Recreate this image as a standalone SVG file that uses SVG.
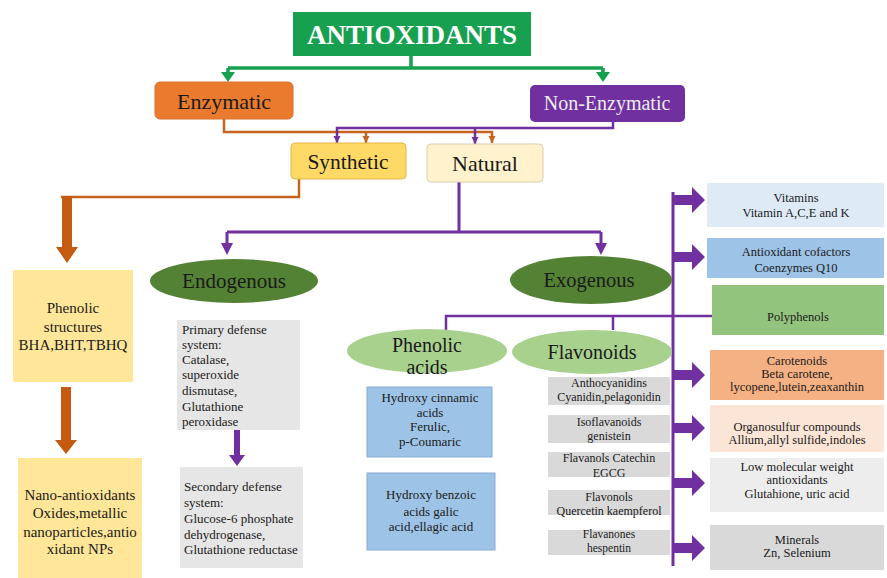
<svg xmlns="http://www.w3.org/2000/svg" width="887" height="578" viewBox="0 0 887 578" font-family="'Liberation Serif', 'DejaVu Serif', serif">
<style>
text{font-family:'Liberation Serif','DejaVu Serif',serif;fill:#1a1a1a;text-anchor:middle}
.big{font-size:20px}
.sm{font-size:12.5px}
.xs{font-size:12px}
.md{font-size:13px}
.lg{font-size:15px}
.lt{text-anchor:start}
.pl{fill:none;stroke:#7030a0;stroke-width:2.5}
.ol{fill:none;stroke:#c5651e;stroke-width:2.5}
.gl{fill:none;stroke:#17a04f;stroke-width:3.5}
.pf{fill:#7030a0}
.of{fill:#c55a11}
.gf{fill:#17a04f}
</style>
<defs>
<marker id="ap" viewBox="0 0 10 10" refX="10" refY="5" markerWidth="3" markerHeight="3" orient="auto"><path d="M0,0 L10,5 L0,10 z" fill="#7030a0"/></marker>
<marker id="ao" viewBox="0 0 10 10" refX="10" refY="5" markerWidth="3" markerHeight="3" orient="auto"><path d="M0,0 L10,5 L0,10 z" fill="#c5651e"/></marker>
<path id="ra" d="M0,-5 H19 V-13 L32,0 L19,13 V5 H0 z"/>
</defs>

<g id="connectors">
  <path class="gl" d="M411,56 V68 M228,68 H603 M228,68 V73 M603,68 V73"/>
  <polygon class="gf" points="221,72 235,72 228,82"/>
  <polygon class="gf" points="596,72 610,72 603,82"/>
  <path class="ol" d="M224,119 V132 H492 V143" marker-end="url(#ao)"/>
  <path class="ol" d="M366,132 V143" marker-end="url(#ao)"/>
  <path class="pl" d="M613,122 V128 H337 V143" marker-end="url(#ap)"/>
  <path class="pl" d="M475,128 V144" marker-end="url(#ap)"/>
  <path class="ol" d="M299,179 V197 H61"/>
  <polygon class="of" points="62,196 72,196 72,247 78,247 67,263 56,247 62,247"/>
  <polygon class="of" points="61,387 71,387 71,440 77,440 66,454 55,440 61,440"/>
  <path class="pl" d="M459,182 V232 M227,232 H601 M227,232 V245 M601,232 V245" style="stroke-width:3"/>
  <polygon class="pf" points="221,243 233,243 227,255"/>
  <polygon class="pf" points="595,243 607,243 601,255"/>
  <polygon class="pf" points="234,430 240,430 240,455 245,455 237,466 229,455 234,455"/>
  <path class="pl" d="M673,192 V566" style="stroke-width:3"/>
  <path class="pl" d="M446,333 V316 H712 M613,316 V330"/>
  <use href="#ra" class="pf" x="673" y="200"/>
  <use href="#ra" class="pf" x="673" y="257"/>
  <use href="#ra" class="pf" x="673" y="375"/>
  <use href="#ra" class="pf" x="673" y="428"/>
  <use href="#ra" class="pf" x="673" y="483"/>
  <use href="#ra" class="pf" x="673" y="548"/>
</g>

<g id="antioxidants">
  <rect x="293" y="12" width="238" height="44" fill="#17a04f"/>
  <text x="412" y="44" style="font-size:27px;font-weight:bold;fill:#fff">ANTIOXIDANTS</text>
</g>
<g id="enzymatic">
  <rect x="155" y="82" width="138" height="37" rx="5" fill="#ea7a2e" stroke="#d8702a"/>
  <text class="big" x="224" y="109" style="font-size:22px">Enzymatic</text>
</g>
<g id="non-enzymatic">
  <rect x="530" y="85" width="155" height="37" rx="5" fill="#7030a0"/>
  <text class="big" x="607" y="110" style="fill:#ececec">Non-Enzymatic</text>
</g>
<g id="synthetic">
  <rect x="291" y="143" width="115" height="36" rx="4" fill="#ffd965" stroke="#e2b54a"/>
  <text class="big" x="348" y="169" style="font-size:21.5px">Synthetic</text>
</g>
<g id="natural">
  <rect x="427" y="144" width="116" height="38" rx="4" fill="#fff2cc" stroke="#d9ceb0"/>
  <text class="big" x="485" y="171" style="font-size:22px">Natural</text>
</g>
<g id="phenolic-structures">
  <rect x="13" y="270" width="120" height="112" fill="#ffe699"/>
  <text class="lg" x="73" y="313">Phenolic</text>
  <text class="lg" x="73" y="332">structures</text>
  <text class="lg" x="73" y="350">BHA,BHT,TBHQ</text>
</g>
<g id="nano">
  <rect x="18" y="458" width="124" height="120" fill="#ffe699"/>
  <text class="lg" x="80" y="500">Nano-antioxidants</text>
  <text class="lg" x="80" y="518">Oxides,metallic</text>
  <text class="lg" x="80" y="537">nanoparticles,antio</text>
  <text class="lg" x="80" y="554">xidant NPs</text>
</g>
<g id="endogenous">
  <ellipse cx="234" cy="281" rx="84" ry="22" fill="#548235"/>
  <text class="big" x="234" y="288" style="font-size:21px">Endogenous</text>
</g>
<g id="exogenous">
  <ellipse cx="591" cy="280" rx="81" ry="24" fill="#548235"/>
  <text class="big" x="589" y="287" style="font-size:20.5px">Exogenous</text>
</g>
<g id="primary">
  <rect x="177" y="320" width="123" height="110" fill="#e7e6e6"/>
  <text class="md lt" x="182" y="334">Primary defense</text>
  <text class="md lt" x="182" y="349">system:</text>
  <text class="md lt" x="182" y="364">Catalase,</text>
  <text class="md lt" x="182" y="379">superoxide</text>
  <text class="md lt" x="182" y="395">dismutase,</text>
  <text class="md lt" x="182" y="411">Glutathione</text>
  <text class="md lt" x="182" y="426">peroxidase</text>
</g>
<g id="secondary">
  <rect x="180" y="467" width="123" height="101" fill="#e7e6e6"/>
  <text class="md lt" x="184" y="491">Secondary  defense</text>
  <text class="md lt" x="184" y="507">system:</text>
  <text class="md lt" x="184" y="523">Glucose-6 phosphate</text>
  <text class="md lt" x="184" y="539">dehydrogenase,</text>
  <text class="md lt" x="184" y="554">Glutathione reductase</text>
</g>
<g id="phenolic-acids">
  <ellipse cx="427" cy="351" rx="80" ry="22" fill="#a9d18e"/>
  <text class="big" x="427" y="352">Phenolic</text>
  <text class="big" x="427" y="374">acids</text>
</g>
<g id="flavonoids">
  <ellipse cx="592" cy="352" rx="80" ry="22" fill="#a9d18e"/>
  <text class="big" x="592" y="359">Flavonoids</text>
</g>
<g id="hydroxy-cinnamic">
  <rect x="367" y="387" width="125" height="70" fill="#9dc3e6" stroke="#86acd6"/>
  <text class="md" x="430" y="402">Hydroxy  cinnamic</text>
  <text class="md" x="430" y="417">acids</text>
  <text class="md" x="430" y="431">Ferulic,</text>
  <text class="md" x="430" y="446">p-Coumaric</text>
</g>
<g id="hydroxy-benzoic">
  <rect x="367" y="473" width="128" height="77" fill="#9dc3e6" stroke="#86acd6"/>
  <text class="md" x="431" y="499">Hydroxy  benzoic</text>
  <text class="md" x="431" y="516">acids galic</text>
  <text class="md" x="431" y="531">acid,ellagic acid</text>
</g>
<g id="anthocyanidins">
  <rect x="548" y="377" width="122" height="28" fill="#d9d9d9"/>
  <text class="xs" x="609" y="387">Anthocyanidins</text>
  <text class="xs" x="609" y="401">Cyanidin,pelagonidin</text>
</g>
<g id="isoflavanoids">
  <rect x="548" y="415" width="122" height="28" fill="#d9d9d9"/>
  <text class="xs" x="609" y="426">Isoflavanoids</text>
  <text class="xs" x="609" y="440">genistein</text>
</g>
<g id="flavanols">
  <rect x="548" y="452" width="122" height="25" fill="#d9d9d9"/>
  <text class="xs" x="609" y="462">Flavanols  Catechin</text>
  <text class="xs" x="609" y="477">EGCG</text>
</g>
<g id="flavonols">
  <rect x="548" y="490" width="122" height="25" fill="#d9d9d9"/>
  <text class="xs" x="609" y="501">Flavonols</text>
  <text class="xs" x="609" y="515">Quercetin  kaempferol</text>
</g>
<g id="flavanones">
  <rect x="548" y="530" width="122" height="25" fill="#d9d9d9"/>
  <text class="xs" x="609" y="538" style="font-size:11.5px">Flavanones</text>
  <text class="xs" x="609" y="552" style="font-size:11.5px">hespentin</text>
</g>
<g id="vitamins">
  <rect x="707" y="183" width="177" height="44" fill="#deebf7"/>
  <text class="sm" x="796" y="202">Vitamins</text>
  <text class="sm" x="796" y="217">Vitamin A,C,E  and K</text>
</g>
<g id="cofactors">
  <rect x="707" y="238" width="177" height="40" fill="#9dc3e6"/>
  <text class="sm" x="796" y="256">Antioxidant  cofactors</text>
  <text class="sm" x="796" y="272">Coenzymes  Q10</text>
</g>
<g id="polyphenols">
  <rect x="712" y="285" width="172" height="50" fill="#93c47d"/>
  <text class="sm" x="798" y="321">Polyphenols</text>
</g>
<g id="carotenoids">
  <rect x="710" y="350" width="174" height="50" fill="#f4b183"/>
  <text class="sm" x="797" y="365">Carotenoids</text>
  <text class="sm" x="797" y="378">Beta carotene,</text>
  <text class="sm" x="797" y="391">lycopene,lutein,zeaxanthin</text>
</g>
<g id="organosulfur">
  <rect x="710" y="405" width="174" height="47" fill="#fbe5d6"/>
  <text class="sm" x="797" y="431">Organosulfur compounds</text>
  <text class="sm" x="797" y="444">Allium,allyl  sulfide,indoles</text>
</g>
<g id="low-molecular">
  <rect x="710" y="458" width="174" height="54" fill="#ededed"/>
  <text class="sm" x="797" y="471">Low molecular weight</text>
  <text class="sm" x="797" y="484">antioxidants</text>
  <text class="sm" x="797" y="498">Glutahione, uric acid</text>
</g>
<g id="minerals">
  <rect x="710" y="525" width="174" height="45" fill="#d9d9d9"/>
  <text class="sm" x="797" y="544">Minerals</text>
  <text class="sm" x="797" y="557">Zn, Selenium</text>
</g>
</svg>
